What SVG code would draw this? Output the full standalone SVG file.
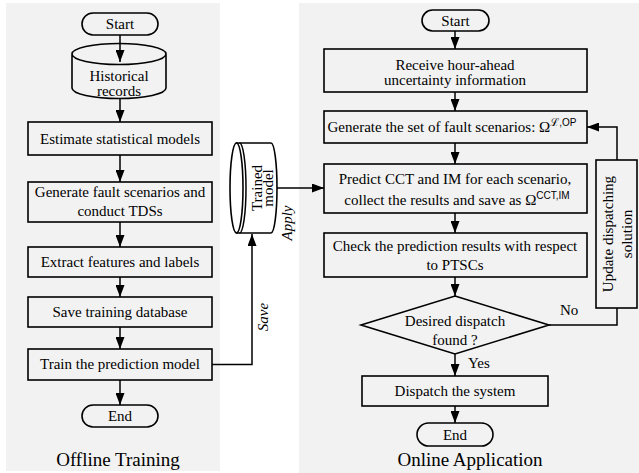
<svg xmlns="http://www.w3.org/2000/svg" width="639" height="473" viewBox="0 0 639 473">
<style>
.bg{fill:#f2f2f2;stroke:none}
.box{fill:none;stroke:#000;stroke-width:1.6}
.wbox{fill:#fff;stroke:#000;stroke-width:1.6}
.ln{fill:none;stroke:#000;stroke-width:1.5}
text{font-family:"Liberation Serif","DejaVu Serif",serif;font-size:15px;fill:#000}
.c{text-anchor:middle}
.ttl{font-size:19px}
.it{font-style:italic}
.sup{font-family:"Liberation Sans","DejaVu Sans",sans-serif;font-size:10px}
</style>
<defs>
<marker id="ah" markerUnits="userSpaceOnUse" markerWidth="12" markerHeight="9" refX="12" refY="4.5" orient="auto">
<path d="M0,0 L12,4.5 L0,9 Z" fill="#000"/>
</marker>
</defs>
<rect class="bg" x="6" y="3" width="214" height="468"/>
<rect class="bg" x="299" y="3" width="340" height="470"/>

<g id="connectors">
<line class="ln" x1="120" y1="35" x2="120" y2="62" marker-end="url(#ah)"/>
<line class="ln" x1="120" y1="99" x2="120" y2="122" marker-end="url(#ah)"/>
<line class="ln" x1="120" y1="155" x2="120" y2="182" marker-end="url(#ah)"/>
<line class="ln" x1="120" y1="222" x2="120" y2="247" marker-end="url(#ah)"/>
<line class="ln" x1="120" y1="277" x2="120" y2="297" marker-end="url(#ah)"/>
<line class="ln" x1="120" y1="327" x2="120" y2="349" marker-end="url(#ah)"/>
<line class="ln" x1="120" y1="380" x2="120" y2="405" marker-end="url(#ah)"/>
<polyline class="ln" points="212,364.5 252,364.5 252,234" marker-end="url(#ah)"/>
<line class="ln" x1="277" y1="188" x2="324" y2="188" marker-end="url(#ah)"/>
<line class="ln" x1="455" y1="31" x2="455" y2="49" marker-end="url(#ah)"/>
<line class="ln" x1="455" y1="92" x2="455" y2="111" marker-end="url(#ah)"/>
<line class="ln" x1="455" y1="143" x2="455" y2="164" marker-end="url(#ah)"/>
<line class="ln" x1="455" y1="213" x2="455" y2="233" marker-end="url(#ah)"/>
<line class="ln" x1="455" y1="277" x2="455" y2="296" marker-end="url(#ah)"/>
<line class="ln" x1="455" y1="354" x2="455" y2="376" marker-end="url(#ah)"/>
<line class="ln" x1="455" y1="406" x2="455" y2="423" marker-end="url(#ah)"/>
<polyline class="ln" points="549,325 617,325 617,308"/>
<polyline class="ln" points="617,160 617,127 587,127" marker-end="url(#ah)"/>
<text x="268" y="317" class="c it" transform="rotate(-90 268 317)">Save</text>
<text x="292" y="223" class="c it" transform="rotate(-90 292 223)">Apply</text>
<text x="560" y="315">No</text>
<text x="468" y="368">Yes</text>
</g>

<g id="start-off">
<rect class="box" x="82" y="13" width="76" height="22" rx="11"/>
<text x="120" y="29" class="c">Start</text>
</g>
<g id="historical">
<path class="box" d="M72,54 A47,10.5 0 0 1 166,54 L166,88 A47,10.5 0 0 1 72,88 Z M72,54 A47,10.5 0 0 0 166,54"/>
<text x="119" y="81" class="c">Historical</text>
<text x="119" y="96" class="c">records</text>
</g>
<g id="estimate">
<rect class="box" x="28" y="122" width="184" height="33"/>
<text x="120" y="144" class="c">Estimate statistical models</text>
</g>
<g id="gen-fault">
<rect class="box" x="28" y="182" width="184" height="40"/>
<text x="120" y="197" class="c">Generate fault scenarios and</text>
<text x="120" y="216" class="c">conduct TDSs</text>
</g>
<g id="extract">
<rect class="box" x="28" y="247" width="184" height="30"/>
<text x="120" y="267" class="c">Extract features and labels</text>
</g>
<g id="save-db">
<rect class="box" x="28" y="297" width="184" height="30"/>
<text x="120" y="317" class="c">Save training database</text>
</g>
<g id="train">
<rect class="box" x="28" y="349" width="184" height="31"/>
<text x="120" y="369" class="c">Train the prediction model</text>
</g>
<g id="end-off">
<rect class="box" x="82" y="405" width="76" height="22" rx="11"/>
<text x="120" y="421" class="c">End</text>
</g>
<text x="118" y="466" class="c ttl">Offline Training</text>

<g id="trained-model">
<path class="wbox" d="M236.5,143 L271,143 A6,45 0 0 1 271,233 L236.5,233 Z"/>
<ellipse class="wbox" cx="236.5" cy="188" rx="6.5" ry="45"/>
<path class="ln" d="M239.5,143 A6.5,45 0 0 1 239.5,233"/>
<text x="262" y="188" class="c" transform="rotate(-90 262 188)">Trained</text>
<text x="273" y="188" class="c" transform="rotate(-90 273 188)">model</text>
</g>

<g id="start-on">
<rect class="box" x="422" y="10" width="67" height="21" rx="10.5"/>
<text x="455.5" y="25.5" class="c">Start</text>
</g>
<g id="receive">
<rect class="box" x="324" y="49" width="263" height="43"/>
<text x="455" y="70" class="c">Receive hour-ahead</text>
<text x="455" y="85" class="c">uncertainty information</text>
</g>
<g id="gen-set">
<rect class="box" x="324" y="111" width="263" height="32"/>
<text x="452" y="132" class="c">Generate the set of fault scenarios: Ω<tspan dy="-6" font-size="11px">ℒ</tspan><tspan class="sup">,OP</tspan></text>
</g>
<g id="predict">
<rect class="box" x="324" y="164" width="263" height="49"/>
<text x="455" y="184" class="c">Predict CCT and IM for each scenario,</text>
<text x="457" y="205" class="c">collect the results and save as  Ω<tspan class="sup" dy="-6">CCT,IM</tspan></text>
</g>
<g id="check">
<rect class="box" x="324" y="233" width="263" height="44"/>
<text x="455" y="251" class="c">Check the prediction results with respect</text>
<text x="455" y="270" class="c">to PTSCs</text>
</g>
<g id="update">
<rect class="box" x="596" y="160" width="41" height="148"/>
<text x="613" y="234" class="c" transform="rotate(-90 613 234)" font-size="16px">Update dispatching</text>
<text x="632" y="234" class="c" transform="rotate(-90 632 234)" font-size="16px">solution</text>
</g>
<g id="decision">
<polygon class="box" points="455,296 549,325 455,354 361,325"/>
<text x="455" y="326" class="c">Desired dispatch</text>
<text x="455" y="345" class="c">found ?</text>
</g>
<g id="dispatch">
<rect class="box" x="362" y="376" width="186" height="30"/>
<text x="455" y="396" class="c">Dispatch the system</text>
</g>
<g id="end-on">
<rect class="box" x="417" y="423" width="76" height="23" rx="11.5"/>
<text x="455" y="440" class="c">End</text>
</g>
<text x="470" y="466" class="c ttl">Online Application</text>
</svg>
